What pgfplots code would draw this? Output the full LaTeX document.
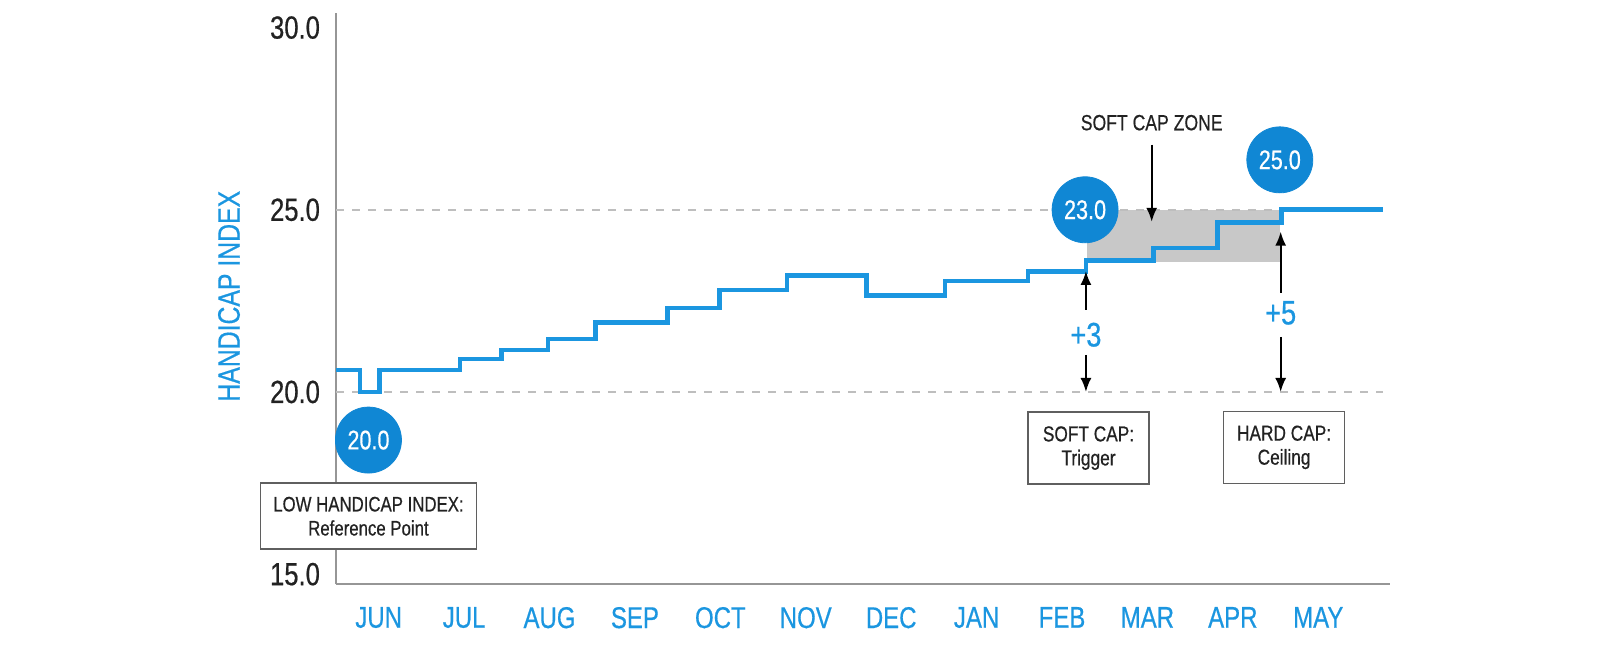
\documentclass[border=0pt]{standalone}
\usepackage{pgfplots}
\pgfplotsset{compat=1.18}
\usepackage{fontspec}
\setmainfont{Liberation Sans}[FakeStretch=0.8, FakeBold=0.5]
\usetikzlibrary{arrows.meta}
\definecolor{hblue}{RGB}{27,150,224}
\definecolor{cblue}{RGB}{16,135,212}
\definecolor{axgray}{RGB}{150,150,150}
\definecolor{dgray}{RGB}{190,190,190}
\definecolor{zgray}{RGB}{200,200,200}
\definecolor{txt}{RGB}{34,34,34}
\definecolor{bxgray}{RGB}{95,95,95}
\begin{document}
\begin{tikzpicture}
\useasboundingbox (0,0) rectangle (808pt,327pt);
\begin{axis}[
  at={(168pt,35pt)}, anchor=south west,
  scale only axis, width=527pt, height=285.5pt,
  xmin=-0.5, xmax=11.84, ymin=14.73, ymax=30.4,
  axis lines=left,
  axis line style={-, axgray, line width=1pt},
  major tick length=0pt,
  xtick={0,1,2,3,4,5,6,7,8,9,10,11},
  xticklabels={JUN,JUL,AUG,SEP,OCT,NOV,DEC,JAN,FEB,MAR,APR,MAY},
  xticklabel style={font=\fontsize{15}{18}\selectfont, text=hblue, yshift=-8pt},
  ytick={15,20,25,30},
  yticklabel style={/pgf/number format/.cd, fixed, fixed zerofill, precision=1, assume math mode=true, /tikz/.cd, font=\fontsize{16}{19}\selectfont, text=txt, xshift=-4.5pt},
  ylabel={HANDICAP INDEX},
  every axis y label/.style={at={(axis description cs:-0.1015,0.504)}, rotate=90, anchor=center, font=\fontsize{15.5}{18}\selectfont, text=hblue},
  clip=false,
]
% soft cap zone
\addplot[draw=none, fill=zgray] coordinates {(8.29,23.57) (10.55,23.57) (10.55,25.0) (8.29,25.0)} -- cycle;
% dashed reference lines
\addplot[dgray, line width=1pt, dash pattern=on 4pt off 4pt] coordinates {(-0.5,25) (11.76,25)};
\addplot[dgray, line width=1pt, dash pattern=on 4pt off 4pt] coordinates {(-0.5,20) (11.76,20)};
% handicap index step line
\addplot[hblue, line width=2.3pt, const plot, line join=miter] coordinates {
 (-0.5,20.6) (-0.22,20.0) (0.01,20.6) (0.95,20.9) (1.44,21.15) (1.98,21.45)
 (2.54,21.9) (3.38,22.3) (3.99,22.8) (4.78,23.2) (5.71,22.65) (6.63,23.05)
 (7.60,23.3) (8.28,23.6) (9.07,23.95) (9.82,24.65) (10.57,25.0) (11.76,25.0)};
% value bubbles
\addplot[cblue, only marks, mark=*, mark size=16.5pt, mark options={draw=cblue, fill=cblue},
  nodes near coords, point meta=explicit symbolic,
  every node near coord/.append style={anchor=center, text=white, font=\fontsize{13.5}{16}\selectfont}]
  coordinates {(-0.12,18.68)[20.0] (8.27,25.0)[23.0] (10.55,26.37)[25.0]};
% soft cap zone label
\node[font=\fontsize{11}{13}\selectfont, text=txt] at (axis cs:9.05,27.39) {SOFT CAP ZONE};
\draw[-{Latex[length=7pt,width=5.5pt]}, line width=1pt] (axis cs:9.05,26.79) -- (axis cs:9.05,24.67);
% +3
\draw[-{Latex[length=7pt,width=5.5pt]}, line width=1pt] (axis cs:8.28,22.25) -- (axis cs:8.28,23.32);
\node[font=\fontsize{17}{20}\selectfont, text=hblue] at (axis cs:8.28,21.57) {+3};
\draw[-{Latex[length=7pt,width=5.5pt]}, line width=1pt] (axis cs:8.28,21.02) -- (axis cs:8.28,20.0);
% +5
\draw[-{Latex[length=7pt,width=5.5pt]}, line width=1pt] (axis cs:10.56,22.72) -- (axis cs:10.56,24.4);
\node[font=\fontsize{17}{20}\selectfont, text=hblue] at (axis cs:10.56,22.17) {+5};
\draw[-{Latex[length=7pt,width=5.5pt]}, line width=1pt] (axis cs:10.56,21.51) -- (axis cs:10.56,20.0);
% boxes
\node[draw=bxgray, line width=0.75pt, fill=white, minimum width=108pt, minimum height=33pt, align=center, text=txt, font=\fontsize{10.5}{12}\selectfont]
  at (axis cs:-0.12,16.59) {LOW HANDICAP INDEX:\\Reference Point};
\node[draw=bxgray, line width=0.75pt, fill=white, minimum width=60.5pt, minimum height=36pt, align=center, text=txt, font=\fontsize{10.8}{12}\selectfont]
  at (axis cs:8.31,18.46) {SOFT CAP:\\Trigger};
\node[draw=bxgray, line width=0.75pt, fill=white, minimum width=60.5pt, minimum height=36pt, align=center, text=txt, font=\fontsize{10.8}{12}\selectfont]
  at (axis cs:10.60,18.48) {HARD CAP:\\Ceiling};
\end{axis}
\end{tikzpicture}
\end{document}
